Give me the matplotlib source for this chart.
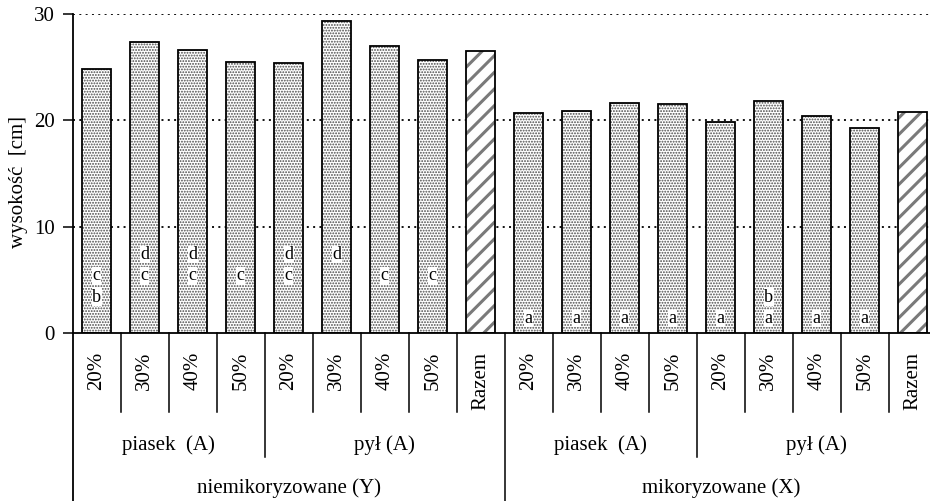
import matplotlib
matplotlib.use("Agg")
import matplotlib.pyplot as plt
from matplotlib.transforms import blended_transform_factory

plt.rcParams['font.family'] = ['Liberation Serif', 'DejaVu Serif']
plt.rcParams['hatch.linewidth'] = 0.8

# Plant height [cm] per treatment
inoculation = ["niemikoryzowane (Y)", "mikoryzowane (X)"]
substrates = ["piasek  (A)", "pył (A)"]
levels = ["20%", "30%", "40%", "50%", "20%", "30%", "40%", "50%", "Razem",
          "20%", "30%", "40%", "50%", "20%", "30%", "40%", "50%", "Razem"]
height_y = [24.8, 27.3, 26.6, 25.5, 25.4, 29.3, 27.0, 25.7, 26.5]
height_x = [20.7, 20.9, 21.6, 21.5, 19.8, 21.8, 20.4, 19.3, 20.75]
groups_y = ["bc", "cd", "cd", "c", "cd", "d", "c", "c", ""]
groups_x = ["a", "a", "a", "a", "a", "ab", "a", "a", ""]

heights = height_y + height_x
groups = groups_y + groups_x
is_total = [lab == "Razem" for lab in levels]

fig = plt.figure(figsize=(9.3, 5.01), dpi=100)
ax = fig.add_axes([72.7 / 930, 167.7 / 501, 864 / 930, 319.6 / 501])

x = list(range(len(heights)))
bw = 0.6
FS = 15

# gridlines behind the bars
for gy in (10, 20, 30):
    ax.axhline(gy, color="black", lw=1.3, dashes=(1.1, 2.4), zorder=0)

for xi, h, tot in zip(x, heights, is_total):
    if tot:
        with plt.rc_context({'hatch.linewidth': 2.2}):
            ax.bar(xi, h, width=bw, color="white", edgecolor="#7a7a7a",
                   hatch="//", linewidth=0, zorder=2)
    else:
        with plt.rc_context({'hatch.linewidth': 0.9}):
            ax.bar(xi, h, width=bw, color="white", edgecolor="#4a4a4a",
                   hatch="......", linewidth=0, zorder=2)
    ax.bar(xi, h, width=bw, fill=False, edgecolor="black", linewidth=1.3,
           zorder=3)

# homogeneous group letters
for xi, g in zip(x, groups):
    for letter in g:
        row = "abcd".index(letter)
        ax.text(xi, 1.4 + 2.0 * row, letter, ha="center", va="center",
                fontsize=13, zorder=4,
                bbox=dict(facecolor="white", edgecolor="none", pad=0.3))

ax.set_xlim(-0.5, len(heights) - 0.5)
ax.set_ylim(0, 30)
ax.set_yticks([0, 10, 20, 30])
ax.tick_params(axis="y", labelsize=FS, length=7, width=1.1, pad=6)
ax.set_xticks([])
for s in ("top", "right"):
    ax.spines[s].set_visible(False)
ax.spines["left"].set_linewidth(1.3)
ax.spines["bottom"].set_linewidth(1.3)

fig.text(18 / 930, (501 - 182) / 501, "wysokość  [cm]", rotation=90,
         ha="center", va="center", fontsize=FS)

# category axis below the plot
tr = blended_transform_factory(ax.transData, fig.transFigure)
y_axis = 167.7 / 501
y_tick = (501 - 412) / 501
y_grp = (501 - 457) / 501
lw = 1.1
for b in range(1, len(heights)):
    xb = b - 0.5
    if b == 9:
        y_end = 0.0
    elif b in (4, 13):
        y_end = y_grp
    else:
        y_end = y_tick
    ax.plot([xb, xb], [y_axis, y_end], color="black", lw=lw, transform=tr,
            clip_on=False)
ax.plot([-0.5, -0.5], [y_axis, 0.0], color="black", lw=1.3, transform=tr,
        clip_on=False)

for xi, lab in zip(x, levels):
    ax.text(xi, (501 - 352) / 501, lab, rotation=90, ha="center", va="top",
            fontsize=FS, transform=tr)

# substrate labels
spans = [(0, 3, substrates[0]), (4, 8, substrates[1]),
         (9, 12, substrates[0]), (13, 17, substrates[1])]
for a, b, lab in spans:
    ax.text((a + b) / 2, (501 - 445) / 501, lab, ha="center", va="center",
            fontsize=FS, transform=tr)

# inoculation labels
for a, b, lab in [(0, 8, inoculation[0]), (9, 17, inoculation[1])]:
    ax.text((a + b) / 2, (501 - 488) / 501, lab, ha="center", va="center",
            fontsize=FS, transform=tr)

fig.savefig("out.png", dpi=100)
